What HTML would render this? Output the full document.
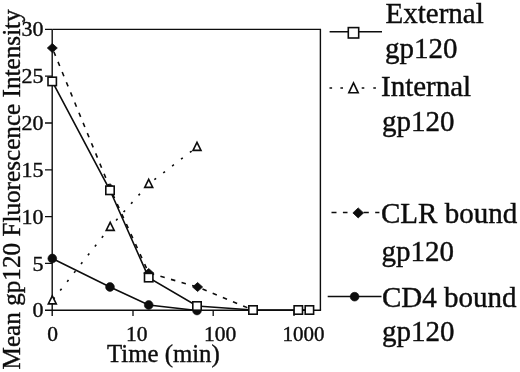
<!DOCTYPE html>
<html>
<head>
<meta charset="utf-8">
<title>gp120 fluorescence chart</title>
<style>
html,body{margin:0;padding:0;background:#fff;}
body{width:520px;height:372px;overflow:hidden;font-family:"Liberation Serif",serif;}
svg{display:block;filter:blur(0.35px);}
text{font-family:"Liberation Serif",serif;fill:#0d0d0d;stroke:#0d0d0d;stroke-width:0.4px;}
</style>
</head>
<body>
<svg width="520" height="372" viewBox="0 0 520 372">
<rect x="-5" y="-5" width="530" height="382" fill="#ffffff"/>

<!-- plot frame -->
<g stroke="#0d0d0d" stroke-width="1.4" fill="none">
  <path d="M52.2 29.4 H320.4 V310.3"/>
  <path d="M52.2 29.4 V316"/>
  <path d="M45 310.3 H321.1"/>
</g>
<!-- ticks -->
<g stroke="#0d0d0d" stroke-width="1.3">
  <path d="M45 29.4H52 M45 76.2H52 M45 123.0H52 M45 169.8H52 M45 216.6H52 M45 263.4H52"/>
  <path d="M133 310V316 M213.2 310V316 M294 310V316"/>
</g>
<!-- y tick labels -->
<g font-size="22" text-anchor="end">
  <text x="43.6" y="36.3">30</text>
  <text x="43.6" y="83.4">25</text>
  <text x="43.6" y="130.2">20</text>
  <text x="43.6" y="177.0">15</text>
  <text x="43.6" y="223.8">10</text>
  <text x="43.6" y="270.6">5</text>
  <text x="43.6" y="317.4">0</text>
</g>
<!-- x tick labels -->
<g font-size="21.5" text-anchor="middle">
  <text x="52.6" y="341">0</text>
  <text x="136.8" y="341">10</text>
  <text x="220" y="341">100</text>
  <text x="303.4" y="341" textLength="42" lengthAdjust="spacingAndGlyphs">1000</text>
</g>
<text x="163.4" y="362.4" font-size="24.8" text-anchor="middle">Time (min)</text>
<text transform="translate(19.5,189.4) rotate(-90)" font-size="25.2" text-anchor="middle">Mean gp120 Fluorescence Intensity</text>

<!-- series lines -->
<g fill="none" stroke="#0d0d0d" stroke-width="1.6">
  <path d="M52.3 300.5 L110.2 227 L148.7 184 L197 147" stroke-dasharray="2.2 9" stroke-dashoffset="-1.6"/>
  <path d="M52.3 48 L110 188.2 L148.7 273 L197.6 287 L253 310" stroke-dasharray="4.5 6.5" stroke-dashoffset="-4"/>
  <path d="M52.2 81.4 L110 190.3 L148.7 277.6 L197 306 L253 310 L298.3 310 L309.4 310"/>
  <path d="M52.3 258.5 L110 287 L148.7 305 L197 310.5"/>
</g>

<!-- markers -->
<g stroke="#0d0d0d" stroke-width="1.6">
  <g fill="#fff">
    <path d="M52.3 295.9 L56.3 303.9 H48.3 Z"/> <path d="M110.2 222.4 L114.2 230.4 H106.2 Z"/> <path d="M148.7 179.4 L152.7 187.4 H144.7 Z"/> <path d="M197 142.4 L201.0 150.4 H193.0 Z"/>
  </g>
  <g fill="#0d0d0d" stroke-width="0.8">
    <path d="M52.3 43.5 L57.3 48 L52.3 52.5 L47.3 48 Z"/> <path d="M110 183.7 L115.0 188.2 L110 192.7 L105.0 188.2 Z"/> <path d="M148.7 268.5 L153.7 273 L148.7 277.5 L143.7 273 Z"/> <path d="M197.6 282.5 L202.6 287 L197.6 291.5 L192.6 287 Z"/>
  </g>
  <g fill="#0d0d0d" stroke-width="0.6">
    <circle cx="52.3" cy="258.5" r="4.4"/> <circle cx="110" cy="287" r="4.4"/> <circle cx="148.7" cy="305" r="4.4"/> <circle cx="197" cy="310.5" r="4.4"/>
  </g>
  <g fill="#fff">
    <rect x="48.0" y="77.2" width="8.4" height="8.4"/> <rect x="105.8" y="186.10000000000002" width="8.4" height="8.4"/> <rect x="144.5" y="273.40000000000003" width="8.4" height="8.4"/> <rect x="192.8" y="301.8" width="8.4" height="8.4"/> <rect x="248.8" y="305.8" width="8.4" height="8.4"/> <rect x="294.1" y="305.8" width="8.4" height="8.4"/> <rect x="305.2" y="305.8" width="8.4" height="8.4"/>
  </g>
</g>

<!-- legend -->
<g stroke="#0d0d0d" stroke-width="1.5" fill="none">
  <path d="M329.6 31.700 H382"/>
  <path d="M329.5 88 h2.6 M340.4 88 h2.6 M361.7 88 h2.6 M373.3 88 h2.6"/>
  <path d="M331.5 212.400 h5 M342.9 212.400 h4.6 M363.6 212.400 h5.2 M375.2 212.400 h4.2"/>
  <path d="M327.700 296.600 H381.5"/>
</g>
<g stroke="#0d0d0d" stroke-width="1.6">
  <g fill="#fff"><rect x="348.3" y="27.599999999999998" width="10.4" height="10.4"/></g>
  <g fill="#fff"><path d="M353.5 82.8 L358.2 92.8 H348.8 Z"/></g>
  <g fill="#0d0d0d" stroke-width="0.8"><path d="M358.2 207.9 L363.5 212.9 L358.2 217.9 L352.9 212.9 Z"/></g>
  <g fill="#0d0d0d" stroke-width="0.6"><circle cx="354.6" cy="296.7" r="4.4"/></g>
</g>
<g font-size="29">
  <text x="385.5" y="22.5">External</text>
  <text x="385" y="57.5">gp120</text>
  <text x="381" y="95.5">Internal</text>
  <text x="382" y="131">gp120</text>
  <text x="381" y="222.500">CLR bound</text>
  <text x="381.5" y="260.600">gp120</text>
  <text x="382" y="306.500">CD4 bound</text>
  <text x="382" y="341">gp120</text>
</g>
</svg>
</body>
</html>
